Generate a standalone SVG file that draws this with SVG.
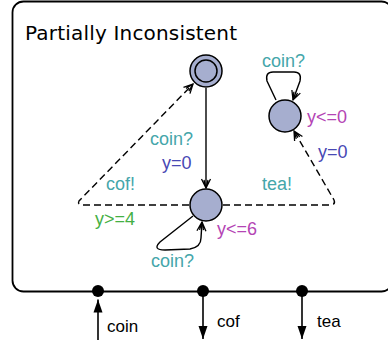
<svg xmlns="http://www.w3.org/2000/svg" width="388" height="347" viewBox="0 0 388 347">
<style>
.lbl{font-family:"Liberation Sans",Arial,sans-serif;font-size:18px}
.sync{fill:#45a6aa}
.asg{fill:#4848b4}
.inv{fill:#b444b4}
.grd{fill:#44b044}
.node{fill:#a6aecf;stroke:#000;stroke-width:1.5}
.edge{fill:none;stroke:#000;stroke-width:1.4}
.dash{stroke-dasharray:7 4}
.port{font-family:"Liberation Sans",Arial,sans-serif;font-size:17px;fill:#000}
</style>
<defs>
<marker id="arr" markerUnits="userSpaceOnUse" markerWidth="14" markerHeight="12" refX="10" refY="6" orient="auto" viewBox="0 0 14 12">
<path d="M1,1.5 L10,6 L1,10.5 M2,4 L10,6 L2,8" fill="none" stroke="#000" stroke-width="1.3"/>
</marker>
<marker id="tri" markerUnits="userSpaceOnUse" markerWidth="14" markerHeight="10" refX="13" refY="5" orient="auto" viewBox="0 0 14 10">
<path d="M0,0.5 L13,5 L0,9.5 Z" fill="#000"/>
</marker>
</defs>
<g id="frame">
<rect x="12.5" y="1.5" width="380" height="290" rx="11" ry="11" fill="#fff" stroke="#000" stroke-width="1.8"/>
<text x="25" y="40" font-family="'DejaVu Sans',sans-serif" font-size="20" textLength="212" fill="#000">Partially Inconsistent</text>
</g>
<g id="connectors">
<path class="edge" d="M206,88 L206,188" marker-end="url(#arr)"/>
<path class="edge dash" d="M189,205 L83,205 Q77,205 79,201 L193,84" marker-end="url(#arr)"/>
<path class="edge dash" d="M223,205 L330,205 Q336,205 334,200 L294,131" marker-end="url(#arr)"/>
<path class="edge" d="M276,100 L267,81 Q265,72 273,72 L294,72 Q302,72 300,81 L293,100" marker-end="url(#arr)"/>
<path class="edge" d="M193,216 L160,242 Q152,250 165,250 L190,249 Q201,247 201,238 L202,222" marker-end="url(#arr)"/>
<text class="lbl sync" x="262" y="67">coin?</text>
<text class="lbl sync" x="150" y="145">coin?</text>
<text class="lbl asg" x="162" y="169">y=0</text>
<text class="lbl sync" x="106" y="190">cof!</text>
<text class="lbl grd" x="95" y="225">y&gt;=4</text>
<text class="lbl sync" x="262" y="190">tea!</text>
<text class="lbl asg" x="318" y="158">y=0</text>
<text class="lbl sync" x="151" y="267">coin?</text>
</g>
<g id="init">
<circle class="node" cx="206" cy="71" r="16"/>
<circle cx="206" cy="71" r="11" fill="none" stroke="#000" stroke-width="1.5"/>
</g>
<g id="mid">
<circle class="node" cx="206" cy="205" r="16"/>
<text class="lbl inv" x="217" y="235">y&lt;=6</text>
</g>
<g id="right">
<circle class="node" cx="285" cy="116" r="16"/>
<text class="lbl inv" x="307" y="123">y&lt;=0</text>
</g>
<g id="port-coin">
<circle cx="98" cy="291" r="6" fill="#000"/>
<path d="M98,340 L98,299.5" stroke="#000" stroke-width="1.6" marker-end="url(#tri)"/>
<text class="port" x="107" y="332">coin</text>
</g>
<g id="port-cof">
<circle cx="203" cy="291" r="6" fill="#000"/>
<path d="M203,296 L203,339" stroke="#000" stroke-width="1.6" marker-end="url(#tri)"/>
<text class="port" x="217" y="327">cof</text>
</g>
<g id="port-tea">
<circle cx="302" cy="291" r="6" fill="#000"/>
<path d="M302,296 L302,339" stroke="#000" stroke-width="1.6" marker-end="url(#tri)"/>
<text class="port" x="317" y="327">tea</text>
</g>
</svg>
